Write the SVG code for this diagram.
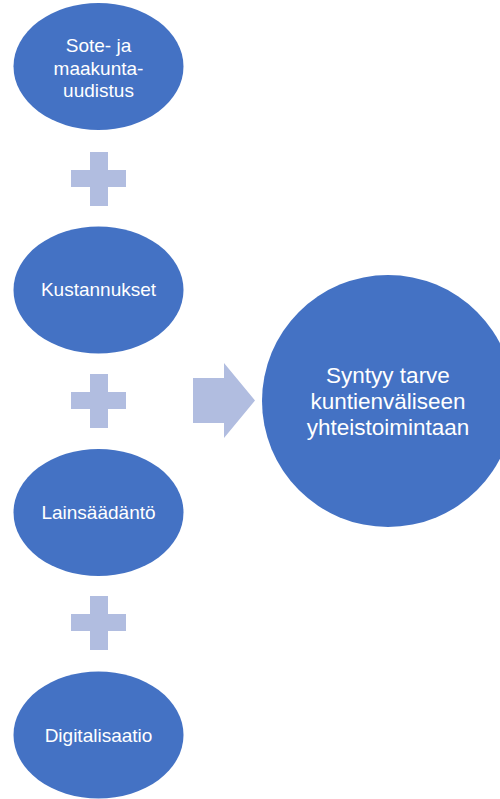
<svg xmlns="http://www.w3.org/2000/svg" width="500" height="799" viewBox="0 0 500 799">
<style>
.node{fill:#4472C4}
.op{fill:#B1BDE0}
.t{font-family:"Liberation Sans",Arial,sans-serif;font-size:19px;fill:#FFFFFF;text-anchor:middle}
.tb{font-family:"Liberation Sans",Arial,sans-serif;font-size:22.5px;fill:#FFFFFF;text-anchor:middle}
</style>
<rect width="500" height="799" fill="#FFFFFF"/>
<g id="n1">
<ellipse class="node" cx="98.5" cy="66.5" rx="85" ry="63.5"/>
<text class="t" x="98.5" y="52">Sote- ja</text>
<text class="t" x="98.5" y="74.5">maakunta-</text>
<text class="t" x="98.5" y="97">uudistus</text>
</g>
<g id="n2">
<ellipse class="node" cx="98.5" cy="290" rx="85" ry="63.5"/>
<text class="t" x="98.5" y="296">Kustannukset</text>
</g>
<g id="n3">
<ellipse class="node" cx="98.5" cy="512.5" rx="85" ry="63.5"/>
<text class="t" x="98.5" y="519">Lainsäädäntö</text>
</g>
<g id="n4">
<ellipse class="node" cx="98.5" cy="735" rx="85" ry="63.5"/>
<text class="t" x="98.5" y="742">Digitalisaatio</text>
</g>
<g id="n5">
<circle class="node" cx="388" cy="401" r="126"/>
<text class="tb" x="388" y="383">Syntyy tarve</text>
<text class="tb" x="388" y="409">kuntienväliseen</text>
<text class="tb" x="388" y="435">yhteistoimintaan</text>
</g>
<g id="connectors">
<path class="op" d="M90 152H108V170H126V187H108V206H90V187H71V170H90Z"/>
<path class="op" d="M90 374H108V392H126V409H108V428H90V409H71V392H90Z"/>
<path class="op" d="M90 596H108V614H126V631H108V650H90V631H71V614H90Z"/>
<path class="op" d="M193 378H224V363L255 400.5L224 438V423H193Z"/>
</g>
</svg>
